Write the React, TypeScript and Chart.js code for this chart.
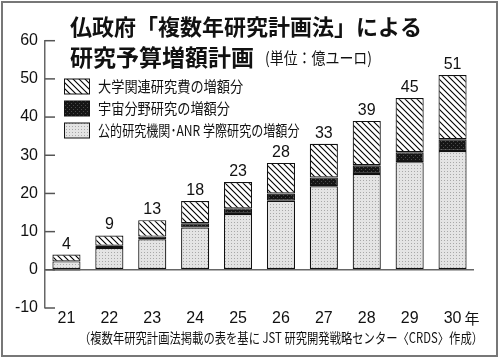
import React, { useEffect, useRef } from "react";
import { Chart, registerables } from "chart.js";

Chart.register(...registerables);

const years = ["21", "22", "23", "24", "25", "26", "27", "28", "29", "30"];
const totals = ["4", "9", "13", "18", "23", "28", "33", "39", "45", "51"];
const publicInst = [2.2, 5.7, 8.0, 11.1, 14.6, 18.1, 21.9, 25.1, 28.2, 31.1];
const spaceRes = [-0.3, 0.6, 0.7, 1.1, 1.5, 1.9, 2.3, 2.3, 2.6, 3.1];
const univRes = [1.8, 2.7, 4.3, 5.8, 6.9, 8.0, 8.8, 11.6, 14.2, 16.8];
const yTicks = { min: -10, max: 60, step: 10 };

const legendLabels = [
  "大学関連研究費の増額分",
  "宇宙分野研究の増額分",
  "公的研究機関･ANR 学際研究の増額分",
];
const titleLine1 = "仏政府「複数年研究計画法」による";
const titleLine2 = "研究予算増額計画";
const unitText = "(単位：億ユーロ)";
const yearSuffix = "年";
const sourceText = "（複数年研究計画法掲載の表を基に JST 研究開発戦略センター〈CRDS〉作成）";

const FONT = '"Liberation Sans", "Noto Sans CJK JP", sans-serif';
const JFONT = '"Noto Sans CJK JP", "Liberation Sans", sans-serif';

function makePattern(kind: string): CanvasPattern | string {
  const c = document.createElement("canvas");
  const g = c.getContext("2d");
  if (!g) return "#ccc";
  if (kind === "hatch") {
    c.width = 6;
    c.height = 6;
    g.fillStyle = "#fff";
    g.fillRect(0, 0, 6, 6);
    g.strokeStyle = "#000";
    g.lineWidth = 1.1;
    g.beginPath();
    g.moveTo(-1, -1);
    g.lineTo(7, 7);
    g.moveTo(-1, 5);
    g.lineTo(1, 7);
    g.moveTo(5, -1);
    g.lineTo(7, 1);
    g.stroke();
  } else if (kind === "dots") {
    c.width = 3;
    c.height = 3;
    g.fillStyle = "#e4e4e4";
    g.fillRect(0, 0, 3, 3);
    g.fillStyle = "#a8a8a8";
    g.fillRect(0, 0, 1, 1);
  } else {
    c.width = 4;
    c.height = 4;
    g.fillStyle = "#151515";
    g.fillRect(0, 0, 4, 4);
    g.fillStyle = "#4a4a4a";
    g.fillRect(1, 1, 1, 1);
    g.fillRect(3, 3, 1, 1);
  }
  return g.createPattern(c, "repeat") || "#ccc";
}

export default function App() {
  const ref = useRef<HTMLCanvasElement | null>(null);

  useEffect(() => {
    const canvas = ref.current;
    if (!canvas) return;
    const hatch = makePattern("hatch");
    const dots = makePattern("dots");
    const dark = makePattern("dark");

    const decor = {
      id: "decor",
      beforeDraw(chart: any) {
        const ctx = chart.ctx;
        ctx.save();
        ctx.fillStyle = "#fff";
        ctx.fillRect(0, 0, chart.width, chart.height);
        ctx.restore();
      },
      afterDraw(chart: any) {
        const ctx = chart.ctx;
        const xs = chart.scales.x;
        const ys = chart.scales.y;
        const area = chart.chartArea;
        ctx.save();
        // inner tick marks
        ctx.strokeStyle = "#555";
        ctx.lineWidth = 1.5;
        ys.ticks.forEach((t: any) => {
          const y = ys.getPixelForValue(t.value);
          ctx.beginPath();
          ctx.moveTo(area.left, y);
          ctx.lineTo(area.left + 10, y);
          ctx.stroke();
        });
        // totals
        ctx.fillStyle = "#111";
        ctx.font = "16px " + FONT;
        ctx.textAlign = "center";
        ctx.textBaseline = "alphabetic";
        years.forEach((_, i) => {
          let sum = 0;
          chart.data.datasets.forEach((d: any) => {
            const v = d.data[i];
            if (v > 0) sum += v;
          });
          const x = xs.getPixelForValue(i);
          const y = ys.getPixelForValue(sum);
          ctx.fillText(totals[i], x, y - 6);
        });
        // year suffix
        ctx.font = "15px " + JFONT;
        ctx.textAlign = "left";
        ctx.textBaseline = "middle";
        ctx.fillText(yearSuffix, xs.getPixelForValue(years.length - 1) + 12, area.bottom + 10);
        // legend
        const fills = [hatch, dark, dots];
        const rowsY = [86.5, 108.5, 130.5];
        legendLabels.forEach((lbl, i) => {
          const cy = rowsY[i];
          ctx.fillStyle = fills[i];
          ctx.fillRect(64, cy - 7.5, 26, 15);
          ctx.strokeStyle = "#111";
          ctx.lineWidth = 1;
          ctx.strokeRect(64.5, cy - 7.5, 25, 15);
          ctx.fillStyle = "#111";
          ctx.save();
          ctx.translate(98, cy);
          ctx.scale(0.88, 1);
          ctx.font = "15px " + JFONT;
          ctx.textAlign = "left";
          ctx.textBaseline = "middle";
          ctx.fillText(lbl, 0, 0, 229);
          ctx.restore();
        });
        // titles
        ctx.fillStyle = "#111";
        ctx.textAlign = "left";
        ctx.textBaseline = "middle";
        ctx.font = "bold 22px " + JFONT;
        ctx.fillText(titleLine1, 70, 27);
        ctx.font = "bold 23px " + JFONT;
        ctx.fillText(titleLine2, 70, 57);
        ctx.font = "16px " + JFONT;
        ctx.fillText(unitText, 265, 58, 107);
        // source
        ctx.font = "14px " + JFONT;
        ctx.textAlign = "center";
        ctx.fillText(sourceText, 281, 338, 404);
        // frame
        ctx.strokeStyle = "#777";
        ctx.lineWidth = 2;
        ctx.strokeRect(2, 2, 495, 354);
        ctx.restore();
      },
    };

    const chart = new Chart(canvas, {
      type: "bar",
      data: {
        labels: years,
        datasets: [
          { label: legendLabels[2], data: publicInst, backgroundColor: dots as any },
          { label: legendLabels[1], data: spaceRes, backgroundColor: dark as any },
          { label: legendLabels[0], data: univRes, backgroundColor: hatch as any },
        ].map((d) => ({
          ...d,
          borderColor: "#111",
          borderWidth: 1.2,
          borderSkipped: false,
          categoryPercentage: 1,
          barPercentage: 0.655,
        })),
      },
      options: {
        animation: false,
        responsive: false,
        devicePixelRatio: 1,
        events: [],
        layout: { padding: { top: 40.7, right: 26, bottom: 0, left: 0 } },
        plugins: { legend: { display: false }, tooltip: { enabled: false }, title: { display: false } },
        scales: {
          x: {
            stacked: true,
            grid: { display: false, drawTicks: false },
            border: { display: false },
            ticks: { color: "#111", font: { family: FONT, size: 16 }, padding: 1, maxRotation: 0 },
            afterFit: (s: any) => {
              s.height = 52;
            },
          },
          y: {
            stacked: true,
            min: yTicks.min,
            max: yTicks.max,
            grid: {
              drawTicks: false,
              color: (c: any) => (c.tick && c.tick.value === 0 ? "#666" : "transparent"),
              lineWidth: 1.5,
            },
            border: { display: true, color: "#666", width: 1.5 },
            ticks: {
              stepSize: yTicks.step,
              color: "#111",
              font: { family: FONT, size: 16 },
              padding: 7,
            },
            afterFit: (s: any) => {
              s.width = 45;
            },
          },
        },
      },
      plugins: [decor],
    });
    return () => chart.destroy();
  }, []);

  return (
    <div style={{ position: "fixed", left: 0, top: 0, width: 500, height: 360, background: "#fff" }}>
      <canvas ref={ref} width={500} height={360} style={{ display: "block" }} />
    </div>
  );
}
